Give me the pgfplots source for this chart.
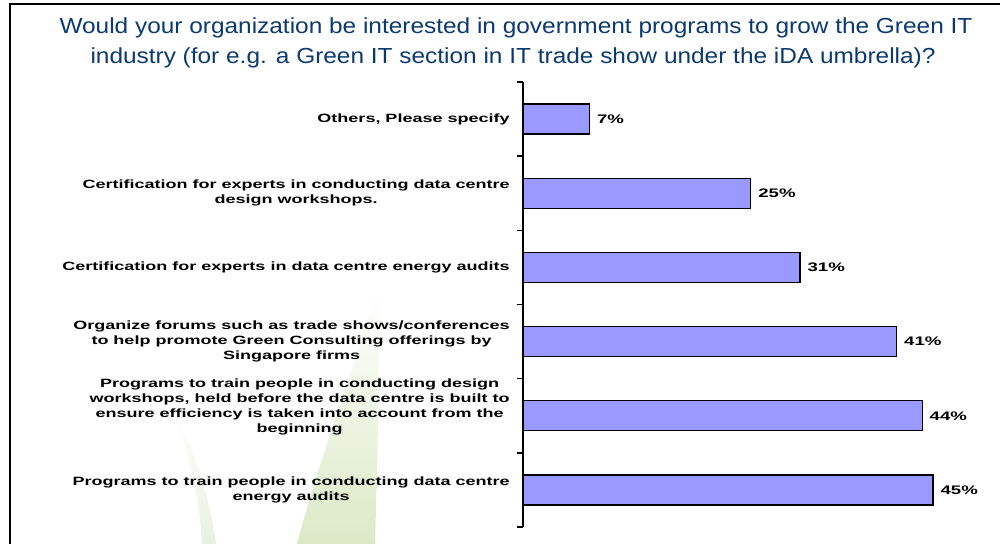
\documentclass[border=0pt]{standalone}
\usepackage{pgfplots}
\pgfplotsset{compat=1.18}
\usepackage{fontspec}
\setmainfont{Liberation Sans}
\newfontfamily\lblfont{Liberation Sans}[FakeStretch=1.5]
\newfontfamily\ttlfont{Liberation Sans}[FakeStretch=1.12]
\definecolor{titleblue}{HTML}{0B3A72}
\definecolor{barfill}{HTML}{9999FF}
\definecolor{leaf}{HTML}{DCE9C6}
\definecolor{leafb}{HTML}{EAF0DF}
\begin{document}
\begin{tikzpicture}
\path[use as bounding box] (0,0) rectangle (500pt,-272pt);
% faint background leaves
\shade[top color=white, bottom color=leaf] (188.5pt,-145pt) .. controls (175pt,-190pt) and (158pt,-235pt) .. (148.5pt,-272pt) -- (187.5pt,-272pt) .. controls (189pt,-220pt) and (190pt,-180pt) .. cycle;
\shade[top color=white, bottom color=leafb] (87pt,-205pt) .. controls (95pt,-230pt) and (100pt,-250pt) .. (101pt,-272pt) -- (108pt,-272pt) .. controls (104pt,-245pt) and (97pt,-225pt) .. cycle;
% frame
\draw[line width=1pt] (4.75pt,-272pt) -- (4.75pt,-2pt) -- (500pt,-2pt);
% title
\node[anchor=base, text=titleblue, inner sep=0pt, font=\ttlfont\fontsize{10.9pt}{15pt}\selectfont] at (258pt,-17pt)
 {Would your organization be interested in government programs to grow the Green IT};
\node[anchor=base, text=titleblue, inner sep=0pt, font=\ttlfont\fontsize{10.9pt}{15pt}\selectfont] at (256.5pt,-32pt)
 {industry (for e.g. a Green IT section in IT trade show under the iDA umbrella)?};
\begin{axis}[
  at={(261.5pt,-263.5pt)}, anchor=south west,
  scale only axis, width=227.8pt, height=222.5pt,
  xbar, bar width=15pt,
  xmin=0, xmax=50,
  ymin=-0.5, ymax=5.5,
  axis x line=none,
  axis y line*=left,
  axis line style={line width=0.8pt, -},
  ytick={0,1,2,3,4,5},
  yticklabels={
    {Programs to train people in conducting data centre\\energy audits},
    {Programs to train people in conducting design\\workshops, held before the data centre is built to\\ensure efficiency is taken into account from the\\beginning\\[2.5pt]\mbox{}},
    {Organize forums such as trade shows/conferences\\to help promote Green Consulting offerings by\\Singapore firms},
    {Certification for experts in data centre energy audits},
    {Certification for experts in conducting data centre\\design workshops.},
    {Others, Please specify}},
  major tick length=0pt,
  minor ytick={-0.5,0.5,1.5,2.5,3.5,4.5,5.5},
  minor tick length=3pt,
  tick align=outside,
  tick style={line width=0.8pt, black},
  yticklabel style={align=center, inner sep=0pt, xshift=-6.5pt,
     font=\lblfont\bfseries\fontsize{6pt}{7.5pt}\selectfont},
  nodes near coords,
  point meta=explicit symbolic,
  nodes near coords style={anchor=west, inner sep=0pt, xshift=3.5pt,
     font=\lblfont\bfseries\fontsize{6.2pt}{7.5pt}\selectfont},
  clip=false,
]
\addplot[fill=barfill, draw=black, line width=0.6pt] coordinates {
  (45,0) [45\%]
  (43.8,1) [44\%]
  (41,2) [41\%]
  (30.4,3) [31\%]
  (25,4) [25\%]
  (7.3,5) [7\%]
};
\end{axis}
\end{tikzpicture}
\end{document}
